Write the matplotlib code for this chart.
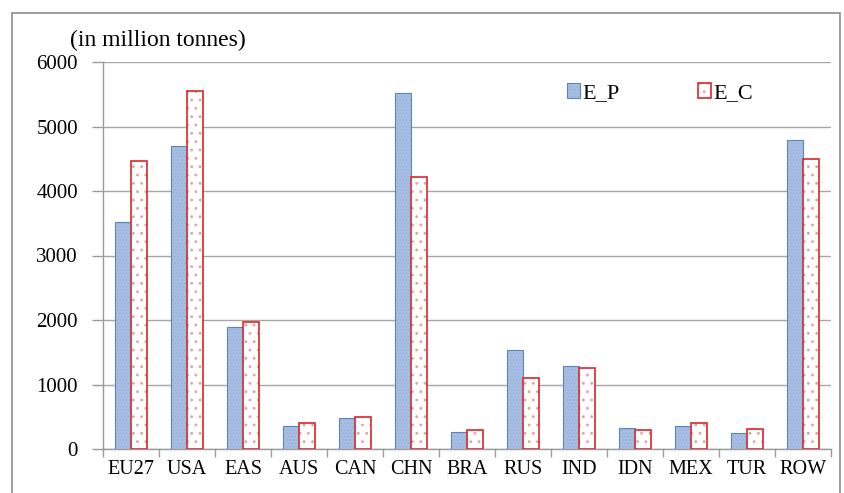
import numpy as np
import matplotlib.pyplot as plt
from matplotlib.patches import Rectangle

# Regions and emissions (million tonnes)
regions = ["EU27", "USA", "EAS", "AUS", "CAN", "CHN", "BRA",
           "RUS", "IND", "IDN", "MEX", "TUR", "ROW"]
e_p = [3520, 4690, 1890, 360, 480, 5520, 260, 1530, 1290, 320, 360, 245, 4790]
e_c = [4470, 5550, 1970, 405, 495, 4220, 290, 1100, 1250, 290, 410, 310, 4490]

plt.rcParams['font.family'] = ['Liberation Serif', 'DejaVu Serif']
plt.rcParams['hatch.linewidth'] = 0.8

fig = plt.figure(figsize=(8.45, 4.93), dpi=100)
ax = fig.add_axes([103 / 845, 1 - 449 / 493, 728 / 845, 387 / 493])

x = np.arange(len(regions))
w = 0.28
bp = ax.bar(x - w / 2, e_p, w, color='#A7BFE2', edgecolor='#5B84BF', linewidth=0.8,
            hatch='.....', label='E_P', zorder=3)
bc = ax.bar(x + w / 2, e_c, w, color='white', edgecolor='#D9262B', linewidth=1.2,
            hatch='..', label='E_C', zorder=3)
for b in bp:
    b._hatch_color = (0.6, 0.69, 0.85, 1.0)
for b in bc:
    b._hatch_color = (0.92, 0.62, 0.62, 1.0)

ax.set_xlim(-0.5, len(regions) - 0.5)
ax.set_ylim(0, 6000)
ax.set_yticks(range(0, 6001, 1000))
ax.set_xticks(x)
ax.set_xticklabels(regions, fontsize=14.5)
ax.set_xticks(np.arange(-0.5, len(regions), 1), minor=True)
ax.tick_params(axis='x', which='major', length=0, pad=8)
ax.tick_params(axis='x', which='minor', length=6, color='#999999', width=1)
ax.tick_params(axis='y', length=8, color='#999999', width=1, labelsize=15, pad=10)

ax.grid(axis='y', color='#A6A6A6', linewidth=1, zorder=0)
for s in ['top', 'right']:
    ax.spines[s].set_visible(False)
for s in ['left', 'bottom']:
    ax.spines[s].set_color('#999999')
    ax.spines[s].set_linewidth(1)

fig.text(70 / 845, 1 - 40 / 493, "(in million tonnes)", fontsize=17,
         va='center', ha='left')

ax.legend(loc='center left', bbox_to_anchor=(0.61, 0.92), ncol=2,
          frameon=False, fontsize=16, handlelength=0.6, handleheight=0.7,
          handletextpad=0.1, columnspacing=3.5)

# outer border of the chart
fig.patches.append(Rectangle((12 / 845, -0.01), 828 / 845, 1.01 - 13 / 493,
                             transform=fig.transFigure, fill=False,
                             edgecolor='#8C8C8C', linewidth=1.2))

fig.savefig('out.png', dpi=100)
